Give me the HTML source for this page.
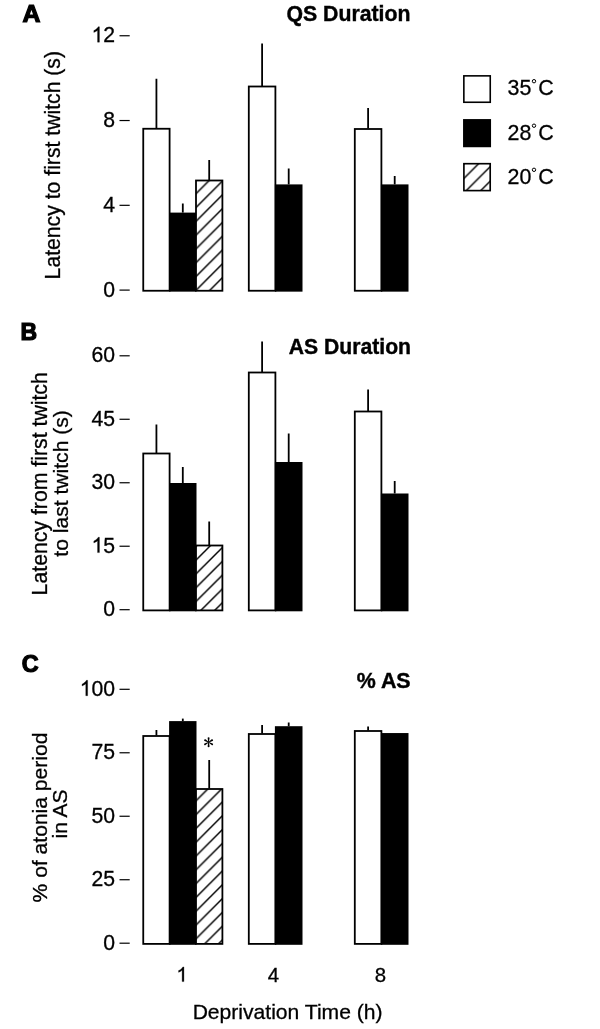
<!DOCTYPE html>
<html><head><meta charset="utf-8"><style>
html,body{margin:0;padding:0;background:#fff;}
svg{display:block}
text{filter:grayscale(1)}
.t{font-family:"Liberation Sans",sans-serif;font-size:21.4px;fill:#000;stroke:#000;stroke-width:0.3px}
.b{font-family:"Liberation Sans",sans-serif;font-size:21.6px;font-weight:bold;fill:#000;stroke:#000;stroke-width:0.4}
.L{font-family:"Liberation Sans",sans-serif;font-size:23.6px;font-weight:bold;fill:#000;stroke:#000;stroke-width:1.2}
</style></head><body>
<svg width="600" height="1029" viewBox="0 0 600 1029">
<defs><pattern id="h1" patternUnits="userSpaceOnUse" x="3.30" y="0" width="13.8" height="13.8"><rect width="13.8" height="13.8" fill="#fff"/><path d="M-2,15.8 L15.8,-2 M-2,2 L2,-2 M11.8,15.8 L15.8,11.8" stroke="#000" stroke-width="1.45"/></pattern>
<pattern id="h2" patternUnits="userSpaceOnUse" x="10.90" y="0" width="13.8" height="13.8"><rect width="13.8" height="13.8" fill="#fff"/><path d="M-2,15.8 L15.8,-2 M-2,2 L2,-2 M11.8,15.8 L15.8,11.8" stroke="#000" stroke-width="1.45"/></pattern>
<pattern id="h3" patternUnits="userSpaceOnUse" x="3.20" y="0" width="13.8" height="13.8"><rect width="13.8" height="13.8" fill="#fff"/><path d="M-2,15.8 L15.8,-2 M-2,2 L2,-2 M11.8,15.8 L15.8,11.8" stroke="#000" stroke-width="1.45"/></pattern>
<pattern id="h4" patternUnits="userSpaceOnUse" x="2.10" y="0" width="14.55" height="14.55"><rect width="14.55" height="14.55" fill="#fff"/><path d="M-2,16.55 L16.55,-2 M-2,2 L2,-2 M12.55,16.55 L16.55,12.55" stroke="#000" stroke-width="1.4"/></pattern></defs>
<rect width="600" height="1029" fill="#fff"/>
<line x1="119.5" y1="290.10" x2="129.7" y2="290.10" stroke="#000" stroke-width="1.2"/>
<text transform="translate(115.10,296.50) scale(0.99,1)" text-anchor="end" class="t" style="font-size:21.4px">0</text>
<line x1="119.5" y1="205.32" x2="129.7" y2="205.32" stroke="#000" stroke-width="1.2"/>
<text transform="translate(115.10,211.72) scale(0.99,1)" text-anchor="end" class="t" style="font-size:21.4px">4</text>
<line x1="119.5" y1="120.53" x2="129.7" y2="120.53" stroke="#000" stroke-width="1.2"/>
<text transform="translate(115.10,126.93) scale(0.99,1)" text-anchor="end" class="t" style="font-size:21.4px">8</text>
<line x1="119.5" y1="35.75" x2="129.7" y2="35.75" stroke="#000" stroke-width="1.2"/>
<path d="M763 0H583V1147Q518 1085 412.5 1023Q307 961 223 930V1104Q374 1175 487 1276Q600 1377 647 1472H763Z" transform="translate(91.53,42.15) scale(0.01034,-0.01045)" fill="#000" stroke="#000" stroke-width="28.7"/>
<text transform="translate(115.10,42.15) scale(0.99,1)" text-anchor="end" class="t" style="font-size:21.4px">2</text>
<line x1="156.425" y1="78.75" x2="156.425" y2="128.25" stroke="#000" stroke-width="1.8"/>
<rect x="143.25" y="128.75" width="26.35" height="162.00" fill="#fff" stroke="#000" stroke-width="1.8"/>
<line x1="182.8" y1="203.5" x2="182.8" y2="212.6" stroke="#000" stroke-width="1.8"/>
<rect x="169.1" y="212.6" width="27.40" height="79.05" fill="#000"/>
<line x1="209.2" y1="160" x2="209.2" y2="180" stroke="#000" stroke-width="1.8"/>
<rect x="196" y="180.5" width="26.40" height="110.25" fill="url(#h1)" stroke="#000" stroke-width="1.8"/>
<line x1="262.1" y1="43.5" x2="262.1" y2="86" stroke="#000" stroke-width="1.8"/>
<rect x="248.8" y="86.5" width="26.60" height="204.25" fill="#fff" stroke="#000" stroke-width="1.8"/>
<line x1="288.7" y1="168.5" x2="288.7" y2="184.4" stroke="#000" stroke-width="1.8"/>
<rect x="274.9" y="184.4" width="27.60" height="107.25" fill="#000"/>
<line x1="368.1" y1="108" x2="368.1" y2="128.5" stroke="#000" stroke-width="1.8"/>
<rect x="354.8" y="129.0" width="26.60" height="161.75" fill="#fff" stroke="#000" stroke-width="1.8"/>
<line x1="394.7" y1="176" x2="394.7" y2="184.4" stroke="#000" stroke-width="1.8"/>
<rect x="380.9" y="184.4" width="27.60" height="107.25" fill="#000"/>
<line x1="119.5" y1="609.70" x2="129.7" y2="609.70" stroke="#000" stroke-width="1.2"/>
<text transform="translate(115.10,616.10) scale(0.99,1)" text-anchor="end" class="t" style="font-size:21.4px">0</text>
<line x1="119.5" y1="546.23" x2="129.7" y2="546.23" stroke="#000" stroke-width="1.2"/>
<path d="M763 0H583V1147Q518 1085 412.5 1023Q307 961 223 930V1104Q374 1175 487 1276Q600 1377 647 1472H763Z" transform="translate(91.53,552.62) scale(0.01034,-0.01045)" fill="#000" stroke="#000" stroke-width="28.7"/>
<text transform="translate(115.10,552.62) scale(0.99,1)" text-anchor="end" class="t" style="font-size:21.4px">5</text>
<line x1="119.5" y1="482.75" x2="129.7" y2="482.75" stroke="#000" stroke-width="1.2"/>
<text transform="translate(115.10,489.15) scale(0.99,1)" text-anchor="end" class="t" style="font-size:21.4px">30</text>
<line x1="119.5" y1="419.27" x2="129.7" y2="419.27" stroke="#000" stroke-width="1.2"/>
<text transform="translate(115.10,425.67) scale(0.99,1)" text-anchor="end" class="t" style="font-size:21.4px">45</text>
<line x1="119.5" y1="355.80" x2="129.7" y2="355.80" stroke="#000" stroke-width="1.2"/>
<text transform="translate(115.10,362.20) scale(0.99,1)" text-anchor="end" class="t" style="font-size:21.4px">60</text>
<line x1="156.425" y1="424.5" x2="156.425" y2="453" stroke="#000" stroke-width="1.8"/>
<rect x="143.25" y="453.5" width="26.35" height="156.90" fill="#fff" stroke="#000" stroke-width="1.8"/>
<line x1="182.8" y1="467" x2="182.8" y2="483" stroke="#000" stroke-width="1.8"/>
<rect x="169.1" y="483" width="27.40" height="128.30" fill="#000"/>
<line x1="209.2" y1="521.5" x2="209.2" y2="545" stroke="#000" stroke-width="1.8"/>
<rect x="196" y="545.5" width="26.40" height="64.90" fill="url(#h2)" stroke="#000" stroke-width="1.8"/>
<line x1="262.1" y1="341.5" x2="262.1" y2="372" stroke="#000" stroke-width="1.8"/>
<rect x="248.8" y="372.5" width="26.60" height="237.90" fill="#fff" stroke="#000" stroke-width="1.8"/>
<line x1="288.7" y1="433.5" x2="288.7" y2="462" stroke="#000" stroke-width="1.8"/>
<rect x="274.9" y="462" width="27.60" height="149.30" fill="#000"/>
<line x1="368.1" y1="389.5" x2="368.1" y2="411" stroke="#000" stroke-width="1.8"/>
<rect x="354.8" y="411.5" width="26.60" height="198.90" fill="#fff" stroke="#000" stroke-width="1.8"/>
<line x1="394.7" y1="481" x2="394.7" y2="493.5" stroke="#000" stroke-width="1.8"/>
<rect x="380.9" y="493.5" width="27.60" height="117.80" fill="#000"/>
<line x1="119.5" y1="943.20" x2="129.7" y2="943.20" stroke="#000" stroke-width="1.2"/>
<text transform="translate(115.10,949.60) scale(0.99,1)" text-anchor="end" class="t" style="font-size:21.4px">0</text>
<line x1="119.5" y1="879.73" x2="129.7" y2="879.73" stroke="#000" stroke-width="1.2"/>
<text transform="translate(115.10,886.12) scale(0.99,1)" text-anchor="end" class="t" style="font-size:21.4px">25</text>
<line x1="119.5" y1="816.25" x2="129.7" y2="816.25" stroke="#000" stroke-width="1.2"/>
<text transform="translate(115.10,822.65) scale(0.99,1)" text-anchor="end" class="t" style="font-size:21.4px">50</text>
<line x1="119.5" y1="752.77" x2="129.7" y2="752.77" stroke="#000" stroke-width="1.2"/>
<text transform="translate(115.10,759.17) scale(0.99,1)" text-anchor="end" class="t" style="font-size:21.4px">75</text>
<line x1="119.5" y1="689.30" x2="129.7" y2="689.30" stroke="#000" stroke-width="1.2"/>
<path d="M763 0H583V1147Q518 1085 412.5 1023Q307 961 223 930V1104Q374 1175 487 1276Q600 1377 647 1472H763Z" transform="translate(79.75,695.70) scale(0.01034,-0.01045)" fill="#000" stroke="#000" stroke-width="28.7"/>
<text transform="translate(115.10,695.70) scale(0.99,1)" text-anchor="end" class="t" style="font-size:21.4px">00</text>
<line x1="156.425" y1="730" x2="156.425" y2="735.5" stroke="#000" stroke-width="1.8"/>
<rect x="143.25" y="736.0" width="26.35" height="207.90" fill="#fff" stroke="#000" stroke-width="1.8"/>
<line x1="182.8" y1="718.6" x2="182.8" y2="721.1" stroke="#000" stroke-width="1.8"/>
<rect x="169.1" y="721.1" width="27.40" height="223.70" fill="#000"/>
<line x1="209.2" y1="760" x2="209.2" y2="788.5" stroke="#000" stroke-width="1.8"/>
<rect x="196" y="789.0" width="26.40" height="154.90" fill="url(#h3)" stroke="#000" stroke-width="1.8"/>
<line x1="262.1" y1="725" x2="262.1" y2="733.5" stroke="#000" stroke-width="1.8"/>
<rect x="248.8" y="734.0" width="26.60" height="209.90" fill="#fff" stroke="#000" stroke-width="1.8"/>
<line x1="288.7" y1="722.5" x2="288.7" y2="726.2" stroke="#000" stroke-width="1.8"/>
<rect x="274.9" y="726.2" width="27.60" height="218.60" fill="#000"/>
<line x1="368.1" y1="726.5" x2="368.1" y2="730.5" stroke="#000" stroke-width="1.8"/>
<rect x="354.8" y="731.0" width="26.60" height="212.90" fill="#fff" stroke="#000" stroke-width="1.8"/>
<rect x="380.9" y="733.05" width="27.60" height="211.75" fill="#000"/>
<rect x="463.85" y="75.86" width="26.4" height="26.4" fill="#fff" stroke="#000" stroke-width="1.6"/>
<rect x="463.05" y="119.07" width="28" height="28.17" fill="#000"/>
<rect x="463.9" y="163.7" width="26.3" height="26.9" fill="url(#h4)" stroke="#000" stroke-width="1.65"/>
<text x="507.6" y="95" class="t">35</text>
<circle cx="534" cy="81.2" r="1.7" fill="none" stroke="#000" stroke-width="1"/>
<text x="538.2" y="95" class="t">C</text>
<text x="507.6" y="139.5" class="t">28</text>
<circle cx="534" cy="125.7" r="1.7" fill="none" stroke="#000" stroke-width="1"/>
<text x="538.2" y="139.5" class="t">C</text>
<text x="507.6" y="183.6" class="t">20</text>
<circle cx="534" cy="169.79999999999998" r="1.7" fill="none" stroke="#000" stroke-width="1"/>
<text x="538.2" y="183.6" class="t">C</text>
<text transform="translate(410.5,21) scale(0.985,1)" text-anchor="end" class="b">QS Duration</text>
<text transform="translate(411,354.2) scale(0.98,1)" text-anchor="end" class="b">AS Duration</text>
<text transform="translate(410.6,688.3) scale(0.99,1)" text-anchor="end" class="b">% AS</text>
<text transform="translate(22.6,22.3) scale(1.05,1)" class="L">A</text>
<text transform="translate(20.6,340) scale(0.975,1)" class="L">B</text>
<text transform="translate(21.8,672) scale(0.99,1)" class="L">C</text>
<text transform="translate(59.6,165.2) rotate(-90)" text-anchor="middle" class="t" style="font-size:21.2px">Latency to first twitch (s)</text>
<text transform="translate(46.7,483.8) rotate(-90)" text-anchor="middle" class="t" style="font-size:21.25px">Latency from first twitch</text>
<text transform="translate(67.7,483.45) rotate(-90)" text-anchor="middle" class="t" style="font-size:21.1px">to last twitch (s)</text>
<text transform="translate(46.5,817.5) rotate(-90)" text-anchor="middle" class="t" style="font-size:21.07px">% of atonia period</text>
<text transform="translate(66.5,814) rotate(-90)" text-anchor="middle" class="t" style="font-size:20.9px">in AS</text>
<path d="M763 0H583V1147Q518 1085 412.5 1023Q307 961 223 930V1104Q374 1175 487 1276Q600 1377 647 1472H763Z" transform="translate(176.33,981.60) scale(0.00996,-0.00996)" fill="#000" stroke="#000" stroke-width="30.1"/>
<text transform="translate(279.17,981.60) scale(1.0,1)" text-anchor="end" class="t" style="font-size:20.4px">4</text>
<text transform="translate(385.97,981.60) scale(1.0,1)" text-anchor="end" class="t" style="font-size:20.4px">8</text>
<text x="287.6" y="1019" text-anchor="middle" class="t" style="font-size:21.1px">Deprivation Time (h)</text>
<g transform="translate(208.6,742.2)"><path d="M-0.35,0 L-0.95,-4.1 A0.95,0.95 0 0 1 0.95,-4.1 L0.35,0 Z" transform="rotate(0)" fill="#000"/><path d="M-0.35,0 L-0.95,-4.1 A0.95,0.95 0 0 1 0.95,-4.1 L0.35,0 Z" transform="rotate(60)" fill="#000"/><path d="M-0.35,0 L-0.95,-4.1 A0.95,0.95 0 0 1 0.95,-4.1 L0.35,0 Z" transform="rotate(120)" fill="#000"/><path d="M-0.35,0 L-0.95,-4.1 A0.95,0.95 0 0 1 0.95,-4.1 L0.35,0 Z" transform="rotate(180)" fill="#000"/><path d="M-0.35,0 L-0.95,-4.1 A0.95,0.95 0 0 1 0.95,-4.1 L0.35,0 Z" transform="rotate(240)" fill="#000"/><path d="M-0.35,0 L-0.95,-4.1 A0.95,0.95 0 0 1 0.95,-4.1 L0.35,0 Z" transform="rotate(300)" fill="#000"/></g>
</svg></body></html>
